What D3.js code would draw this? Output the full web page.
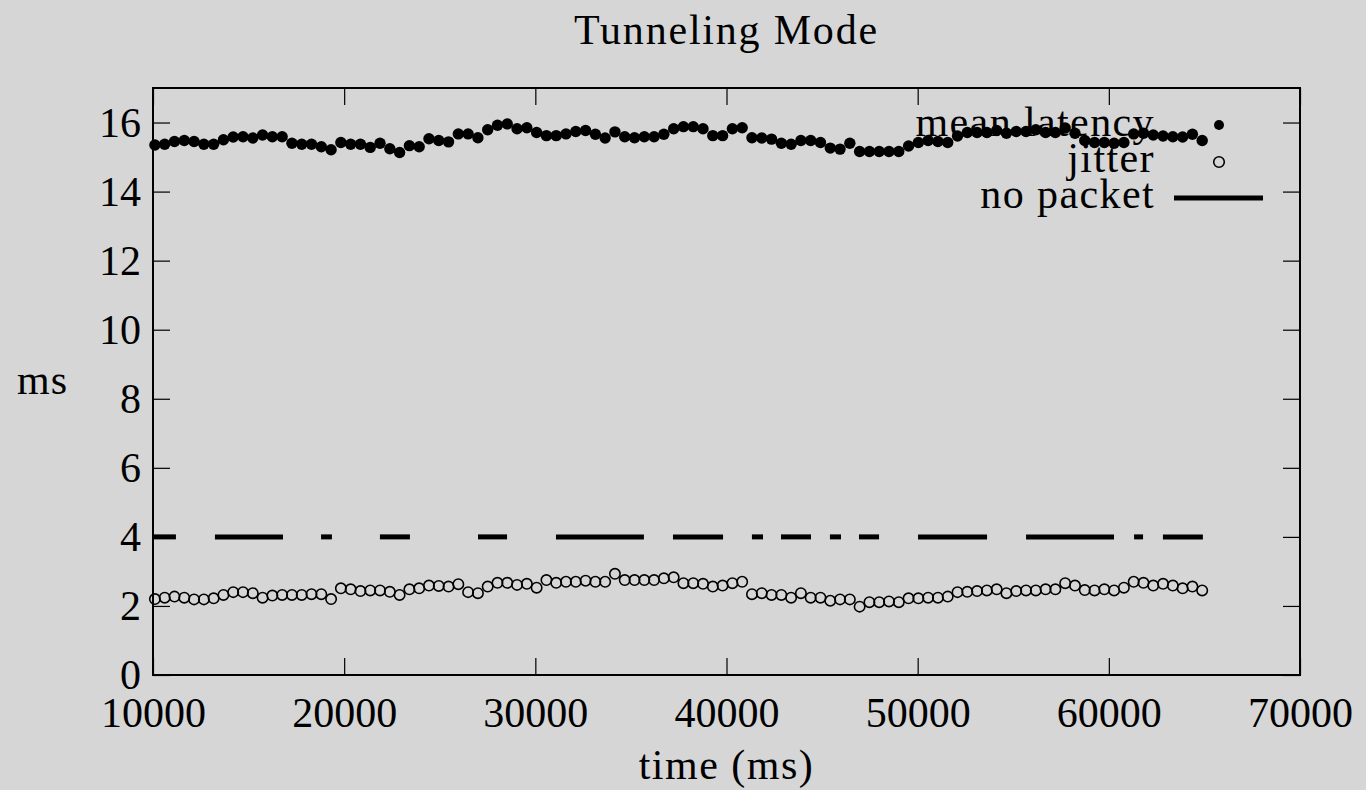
<!DOCTYPE html>
<html>
<head>
<meta charset="utf-8">
<title>Tunneling Mode</title>
<script src="https://cdn.jsdelivr.net/npm/d3@7"></script>
<style>
  html, body { margin: 0; padding: 0; background: #d6d6d6; }
  svg { display: block; }
  text { font-family: "Liberation Serif", "Times New Roman", serif; fill: #000; }
</style>
</head>
<body>
<svg id="chart"></svg>
<script>
// sampling grid of the measurements (ms)
const sampleStart = 10100;
const sampleStep = 512;

// mean latency per sample (ms)
const meanLatency = [
  15.35, 15.37, 15.45, 15.48, 15.45, 15.37, 15.37, 15.50, 15.58, 15.59,
  15.55, 15.64, 15.59, 15.59, 15.40, 15.37, 15.37, 15.30, 15.21, 15.42,
  15.37, 15.37, 15.28, 15.40, 15.24, 15.13, 15.33, 15.30, 15.53,
  15.48, 15.44, 15.67, 15.67, 15.56, 15.79, 15.92, 15.96, 15.82, 15.85,
  15.71, 15.62, 15.62, 15.67, 15.74, 15.77, 15.66, 15.55, 15.73, 15.59,
  15.56, 15.59, 15.59, 15.66, 15.82, 15.88, 15.88, 15.82, 15.62, 15.62,
  15.82, 15.85, 15.56, 15.55, 15.52, 15.40, 15.37, 15.48, 15.48, 15.42,
  15.26, 15.23, 15.40, 15.16, 15.16, 15.16, 15.16, 15.16, 15.32, 15.42,
  15.48, 15.45, 15.42, 15.61, 15.71, 15.71, 15.71, 15.77, 15.69, 15.74,
  15.74, 15.79, 15.71, 15.71, 15.84, 15.69, 15.48, 15.42, 15.42, 15.40,
  15.42, 15.67, 15.69, 15.64, 15.61, 15.59, 15.58, 15.66, 15.48,
];

// jitter per sample (ms)
const jitter = [
  2.20, 2.24, 2.27, 2.24, 2.19, 2.19, 2.22, 2.32, 2.40, 2.40,
  2.37, 2.24, 2.30, 2.32, 2.32, 2.32, 2.34, 2.34, 2.20, 2.51,
  2.48, 2.43, 2.45, 2.45, 2.41, 2.32, 2.48, 2.51, 2.59,
  2.58, 2.56, 2.63, 2.40, 2.37, 2.56, 2.67, 2.67, 2.61, 2.64,
  2.53, 2.75, 2.67, 2.70, 2.70, 2.73, 2.70, 2.70, 2.93, 2.75,
  2.75, 2.75, 2.75, 2.80, 2.83, 2.66, 2.66, 2.64, 2.56, 2.59,
  2.66, 2.70, 2.34, 2.37, 2.32, 2.32, 2.24, 2.37, 2.24, 2.24,
  2.15, 2.19, 2.19, 1.98, 2.11, 2.11, 2.13, 2.11, 2.22, 2.22,
  2.24, 2.24, 2.27, 2.40, 2.41, 2.43, 2.45, 2.48, 2.37, 2.43,
  2.45, 2.45, 2.48, 2.48, 2.66, 2.59, 2.46, 2.45, 2.48, 2.45,
  2.53, 2.70, 2.67, 2.59, 2.64, 2.59, 2.51, 2.56, 2.45,
];

// intervals without any packet [start, end] (ms), drawn at level 4
const noPacketLevel = 4;
const noPacketSpans = [
  [10000, 11200], [13240, 16800], [18790, 19360], [21870, 23440],
  [27000, 28520], [31080, 35680], [37200, 39820], [41330, 41910],
  [42850, 44420], [45410, 45990], [46930, 47980], [50020, 53630],
  [55670, 60270], [61320, 61790], [62830, 64920],
];

// axes
const xTicks = [10000, 20000, 30000, 40000, 50000, 60000, 70000];
const yTicks = [0, 2, 4, 6, 8, 10, 12, 14, 16];
const legendLabels = ["mean latency", "jitter", "no packet"];

/* gnuplot-like scatter chart */
class LatencyChart {
  constructor(containerId) {
    this.width = 1366;
    this.height = 790;
    this.margin = { left: 153, right: 66, top: 88, bottom: 115 };
    this.fontSize = 42;
    this.pointR = 5.7;
    this.svg = d3
      .select(containerId)
      .attr("width", this.width)
      .attr("height", this.height);
    this.x = d3
      .scaleLinear()
      .domain([10000, 70000])
      .range([this.margin.left, this.width - this.margin.right]);
    this.y = d3
      .scaleLinear()
      .domain([0, 17])
      .range([this.height - this.margin.bottom, this.margin.top]);
    this.times = meanLatency.map((_, i) => sampleStart + i * sampleStep);
  }

  draw() {
    this.drawFrame();
    this.drawLabels();
    this.drawLegend();
    this.drawNoPacket();
    this.drawSeries();
  }

  /* border + inward ticks on all four sides */
  drawFrame() {
    const x = this.x;
    const y = this.y;
    const [x0, x1] = x.range();
    const [y0, y1] = y.range();
    const tickLen = 17;
    const g = this.svg.append("g").attr("class", "frame");

    const bottom = d3.axisBottom(x).tickValues(xTicks).tickSizeInner(-tickLen).tickSizeOuter(0).tickFormat(d3.format("d"));
    const top = d3.axisTop(x).tickValues(xTicks).tickSizeInner(-tickLen).tickSizeOuter(0).tickFormat("");
    const left = d3.axisLeft(y).tickValues(yTicks).tickSizeInner(-tickLen).tickSizeOuter(0);
    const right = d3.axisRight(y).tickValues(yTicks).tickSizeInner(-tickLen).tickSizeOuter(0).tickFormat("");

    const gb = g.append("g").attr("transform", `translate(0,${y0})`).call(bottom);
    const gt = g.append("g").attr("transform", `translate(0,${y1})`).call(top);
    const gl = g.append("g").attr("transform", `translate(${x0},0)`).call(left);
    const gr = g.append("g").attr("transform", `translate(${x1},0)`).call(right);

    [gb, gt, gl, gr].forEach((a) => {
      a.attr("font-family", null);
      a.select(".domain").remove();
      a.selectAll(".tick line").attr("stroke", "#000").attr("stroke-width", 1.2);
      a.selectAll("text")
        .attr("font-family", "Liberation Serif, serif")
        .attr("font-size", this.fontSize)
        .attr("fill", "#000");
    });
    gb.selectAll(".tick text").attr("y", 0).attr("dy", null).attr("transform", "translate(0,52)");
    gl.selectAll(".tick text").attr("x", -12).attr("dy", "0.33em");

    g.append("rect")
      .attr("x", x0)
      .attr("y", y1)
      .attr("width", x1 - x0)
      .attr("height", y0 - y1)
      .attr("fill", "none")
      .attr("stroke", "#000")
      .attr("stroke-width", 2);
  }

  /* title & axis labels */
  drawLabels() {
    const cx = (this.x.range()[0] + this.x.range()[1]) / 2;
    this.svg.append("text")
      .attr("x", cx).attr("y", 44)
      .attr("text-anchor", "middle")
      .attr("font-size", this.fontSize)
      .attr("letter-spacing", 1.8)
      .text("Tunneling Mode");
    this.svg.append("text")
      .attr("x", cx).attr("y", 779)
      .attr("text-anchor", "middle")
      .attr("font-size", this.fontSize)
      .attr("letter-spacing", 1.5)
      .text("time (ms)");
    this.svg.append("text")
      .attr("x", 17).attr("y", 394)
      .attr("font-size", this.fontSize)
      .attr("letter-spacing", 1)
      .text("ms");
  }

  drawLegend() {
    const textX = 1155;
    const markX = 1219;
    const rows = [136, 172, 208];
    const g = this.svg.append("g").attr("class", "legend");
    legendLabels.forEach((label, i) => {
      g.append("text")
        .attr("x", textX).attr("y", rows[i])
        .attr("text-anchor", "end")
        .attr("font-size", this.fontSize)
        .attr("letter-spacing", 1.4)
        .text(label);
    });
    g.append("circle").attr("cx", markX).attr("cy", rows[0] - 11).attr("r", 5).attr("fill", "#000");
    g.append("circle").attr("cx", markX).attr("cy", rows[1] - 10).attr("r", 5.3)
      .attr("fill", "none").attr("stroke", "#000").attr("stroke-width", 1.6);
    g.append("line")
      .attr("x1", 1174).attr("x2", 1263)
      .attr("y1", rows[2] - 10).attr("y2", rows[2] - 10)
      .attr("stroke", "#000").attr("stroke-width", 5);
  }

  drawNoPacket() {
    this.svg.append("g").attr("class", "no-packet")
      .selectAll("line")
      .data(noPacketSpans)
      .join("line")
      .attr("x1", (d) => this.x(d[0]))
      .attr("x2", (d) => this.x(d[1]))
      .attr("y1", this.y(noPacketLevel))
      .attr("y2", this.y(noPacketLevel))
      .attr("stroke", "#000")
      .attr("stroke-width", 5);
  }

  drawSeries() {
    const x = this.x;
    const y = this.y;
    const times = this.times;
    const r = this.pointR;
    this.svg.append("g").attr("class", "jitter")
      .selectAll("circle")
      .data(jitter)
      .join("circle")
      .attr("cx", (d, i) => x(times[i]))
      .attr("cy", (d) => y(d))
      .attr("r", r - 0.5)
      .attr("fill", "none")
      .attr("stroke", "#000")
      .attr("stroke-width", 1.6);
    this.svg.append("g").attr("class", "latency")
      .selectAll("circle")
      .data(meanLatency)
      .join("circle")
      .attr("cx", (d, i) => x(times[i]))
      .attr("cy", (d) => y(d))
      .attr("r", r)
      .attr("fill", "#000");
  }
}

new LatencyChart("#chart").draw();
</script>
</body>
</html>
